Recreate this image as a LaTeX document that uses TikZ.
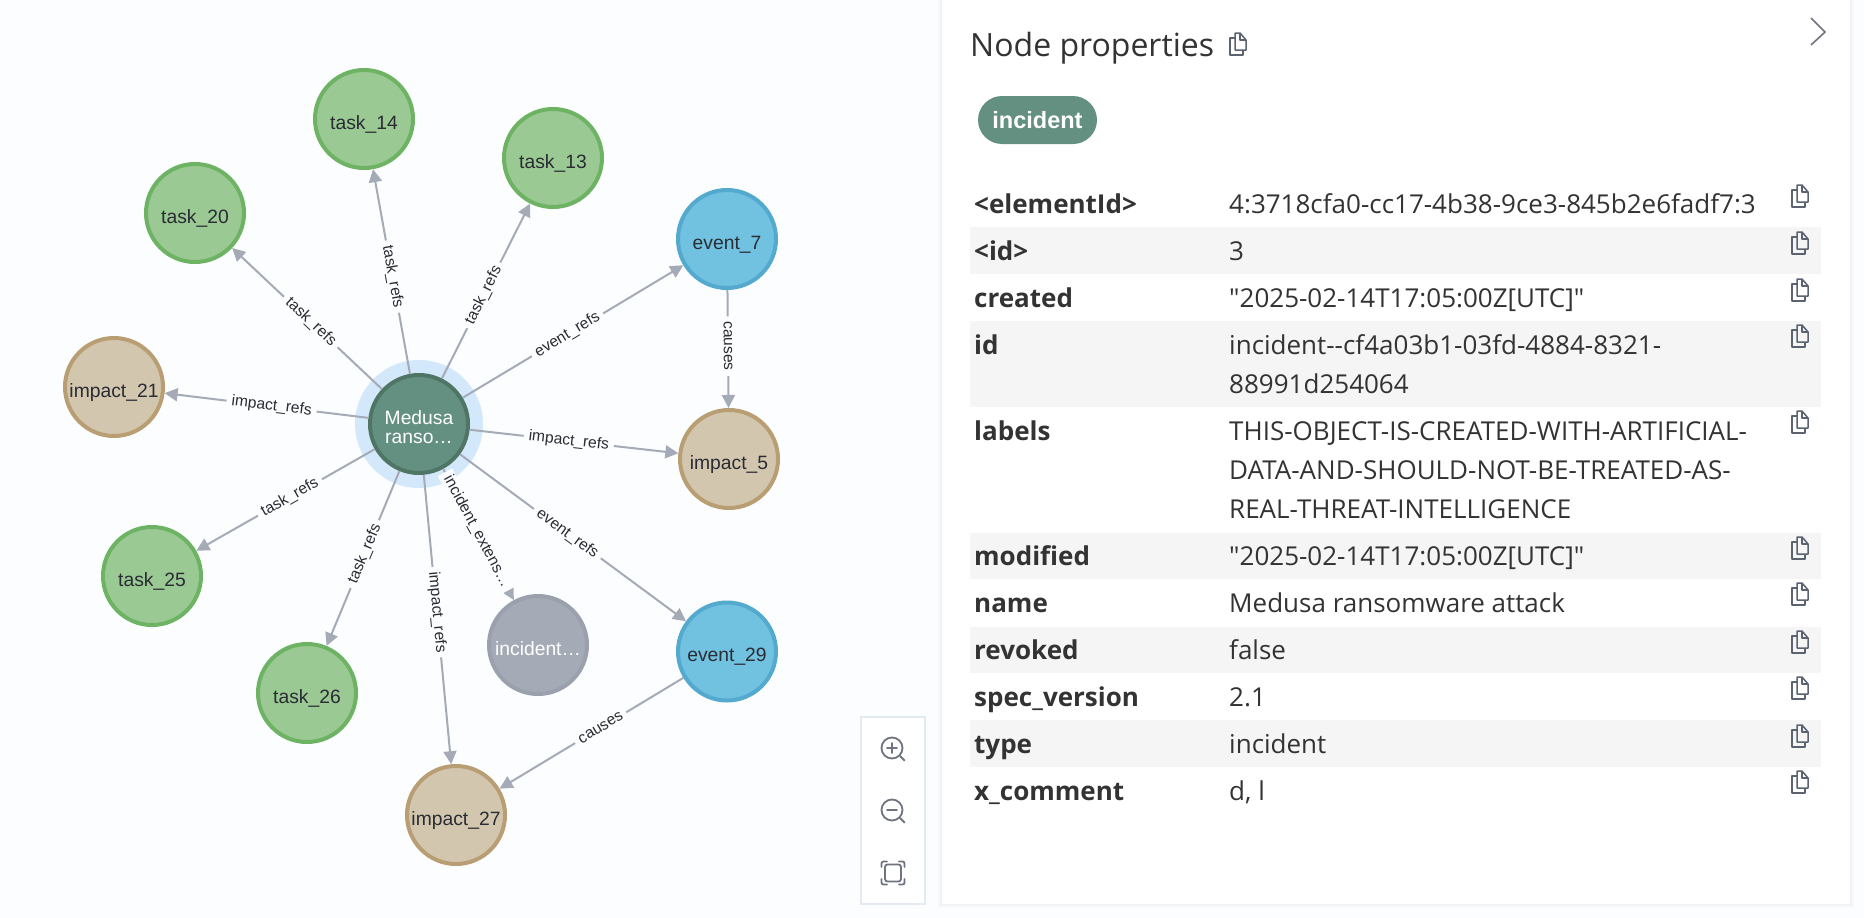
\documentclass[tikz,border=0pt]{standalone}
\usepackage{fontspec}
\usetikzlibrary{arrows.meta,shapes.misc}
\newfontfamily\lib{Liberation Sans}
\newfontfamily\opn{Open Sans}
\definecolor{bgc}{HTML}{FBFDFF}
\definecolor{edgec}{HTML}{A5ABB6}
\definecolor{inkc}{HTML}{2A2C34}
\definecolor{panelink}{HTML}{333333}
\definecolor{stripe}{HTML}{F5F5F5}
\definecolor{shadowa}{HTML}{F7F9FB}
\definecolor{shadowb}{HTML}{F1F3F7}
\definecolor{ctlrim}{HTML}{E3EAF2}
\definecolor{iconc}{HTML}{6F7480}
\definecolor{copyc}{HTML}{5B6270}
\definecolor{tealf}{HTML}{649082}
\definecolor{teald}{HTML}{4F7565}
\definecolor{halo}{HTML}{D4E8FC}
\definecolor{greenf}{HTML}{9AC994}
\definecolor{greend}{HTML}{6DB363}
\definecolor{tanf}{HTML}{D3C6AE}
\definecolor{tand}{HTML}{B89E72}
\definecolor{bluef}{HTML}{71C2E0}
\definecolor{blued}{HTML}{54A9CE}
\definecolor{grayf}{HTML}{A5ABB6}
\definecolor{grayd}{HTML}{9AA1AC}
\tikzset{
  gnode/.style={circle,draw,line width=4pt,minimum size=98pt,inner sep=0pt,align=center,text=inkc,text height=20pt,text depth=0pt,font=\lib\fontsize{19.3}{18.5}\selectfont},
  taskn/.style={gnode,fill=greenf,draw=greend},
  impactn/.style={gnode,fill=tanf,draw=tand},
  eventn/.style={gnode,fill=bluef,draw=blued},
  extn/.style={gnode,fill=grayf,draw=grayd,text=white},
  mainn/.style={gnode,fill=tealf,draw=teald,text=white,text height=38pt},
  rel/.style={draw=edgec,line width=2pt,-{Triangle[length=13pt,width=13pt]}},
  rellab/.style={pos=0.475,sloped,fill=bgc,inner xsep=5pt,inner ysep=1pt,text=inkc,font=\lib\fontsize{15.6}{16}\selectfont},
  pkey/.style={anchor=base west,inner sep=0pt,text=panelink,font=\opn\bfseries\fontsize{26}{28}\selectfont},
  pval/.style={anchor=base west,inner sep=0pt,text=panelink,font=\opn\fontsize{26}{28}\selectfont},
  ctl/.style={draw=iconc,line width=1.8pt,line cap=round},
}
\newcommand{\copyicon}[2]{%
  \begin{scope}[shift={(#1,#2)},draw=copyc,line width=1.5pt,line join=round]
    \draw (-2,-6) -- (-7,-6) -- (-7,11) -- (6,11) -- (6,6);
    \draw (-2,-11) -- (3,-11) -- (9,-4) -- (9,6) -- (-2,6) -- cycle;
    \draw (3,-11) -- (3,-4) -- (9,-4);
  \end{scope}}
\begin{document}
\begin{tikzpicture}[x=1pt,y=-1pt]
\useasboundingbox (0,0) rectangle (1864,918);
\fill[bgc] (0,0) rectangle (1864,918);
% panel
\fill[shadowa] (938,0) rectangle (1854,908);
\fill[shadowb] (940,0) rectangle (1852,906);
\fill[white] (942,0) rectangle (1850,904);
\foreach \a/\b in {227/274,321/407,533/579,627/673,720/767}{\fill[stripe] (970,\a) rectangle (1821,\b);}
% halo
\fill[halo] (419,424) circle (64);
% graph nodes
\node[mainn] (main) at (419,424) {Medusa\\ranso…};
\node[taskn] (t14) at (364,119) {task\_14};
\node[taskn] (t13) at (553,158) {task\_13};
\node[taskn] (t20) at (195,213) {task\_20};
\node[taskn] (t25) at (152,576) {task\_25};
\node[taskn] (t26) at (307,693) {task\_26};
\node[impactn] (i21) at (114,387) {impact\_21};
\node[impactn] (i5) at (729,459) {impact\_5};
\node[impactn] (i27) at (456,815) {impact\_27};
\node[eventn] (e7) at (727,239) {event\_7};
\node[eventn] (e29) at (727,651.5) {event\_29};
\node[extn] (ext) at (538,645) {incident…};
% edges
\path[rel] (main) -- node[rellab]{task\_refs} (t14);
\path[rel] (main) -- node[rellab]{task\_refs} (t13);
\path[rel] (main) -- node[rellab]{task\_refs} (t20);
\path[rel] (main) -- node[rellab]{task\_refs} (t25);
\path[rel] (main) -- node[rellab]{task\_refs} (t26);
\path[rel] (main) -- node[rellab]{impact\_refs} (i21);
\path[rel] (main) -- node[rellab]{impact\_refs} (i5);
\path[rel] (main) -- node[rellab]{impact\_refs} (i27);
\path[rel] (main) -- node[rellab]{event\_refs} (e7);
\path[rel] (main) -- node[rellab]{event\_refs} (e29);
\path[rel] (main) -- node[rellab]{incident\_extens…} (ext);
\path[rel] (e7) -- node[rellab]{causes} (i5);
\path[rel] (e29) -- node[rellab,pos=0.45]{causes} (i27);
% panel text
\node[anchor=base west,inner sep=0pt,text=panelink,font=\opn\fontsize{32}{34}\selectfont] (title) at (970,56) {Node properties};
\copyicon{1237}{44}
\draw[iconc,line width=1.6pt] (1811,18) -- (1825,32) -- (1811,45);
\node[rounded rectangle,fill=tealf,text=white,minimum width=119pt,minimum height=48pt,inner sep=0pt,font=\lib\bfseries\fontsize{23.5}{24}\selectfont,text height=22pt,text depth=5pt] (badge) at (1037.5,120) {incident};
\foreach \k/\y in {{<elementId>}/213,{<id>}/260,{created}/307,{id}/354,{labels}/440,{modified}/565,{name}/612,{revoked}/659,{spec\_version}/706,{type}/753,{x\_comment}/800}{\node[pkey] at (974,\y) {\k};}
\node[pval] at (1229,213) {4:3718cfa0-cc17-4b38-9ce3-845b2e6fadf7:3};
\node[pval] at (1229,260) {3};
\node[pval] at (1229,307) {"2025-02-14T17:05:00Z[UTC]"};
\node[pval] at (1229,354) {incident--cf4a03b1-03fd-4884-8321-};
\node[pval] at (1229,393) {88991d254064};
\node[pval] at (1229,440) {THIS-OBJECT-IS-CREATED-WITH-ARTIFICIAL-};
\node[pval] at (1229,479) {DATA-AND-SHOULD-NOT-BE-TREATED-AS-};
\node[pval] at (1229,518) {REAL-THREAT-INTELLIGENCE};
\node[pval] at (1229,565) {"2025-02-14T17:05:00Z[UTC]"};
\node[pval] at (1229,612) {Medusa ransomware attack};
\node[pval] at (1229,659) {false};
\node[pval] at (1229,706) {2.1};
\node[pval] at (1229,753) {incident};
\node[pval] at (1229,800) {d, l};
\foreach \y in {196,243,290,336,422,548,594,642,688,736,782}{\copyicon{1799}{\y}}
% zoom controls
\fill[ctlrim] (860,716) rectangle (926,905);
\fill[white] (862,718) rectangle (924,903);
\draw[ctl] (892,748) circle (10.5);
\draw[ctl] (900,756) -- (904.5,760.5);
\draw[ctl] (887,748) -- (897,748);
\draw[ctl] (892,743) -- (892,753);
\draw[ctl] (892,810) circle (10.5);
\draw[ctl] (900,818) -- (904.5,822.5);
\draw[ctl] (887,810) -- (897,810);
\draw[ctl,rounded corners=2.5pt] (885,864.5) rectangle (901,881.5);
\draw[ctl,rounded corners=2pt] (881.5,867) -- (881.5,861.5) -- (887,861.5);
\draw[ctl,rounded corners=2pt] (899,861.5) -- (904.5,861.5) -- (904.5,867);
\draw[ctl,rounded corners=2pt] (904.5,879) -- (904.5,884.5) -- (899,884.5);
\draw[ctl,rounded corners=2pt] (887,884.5) -- (881.5,884.5) -- (881.5,879);
\end{tikzpicture}
\end{document}
